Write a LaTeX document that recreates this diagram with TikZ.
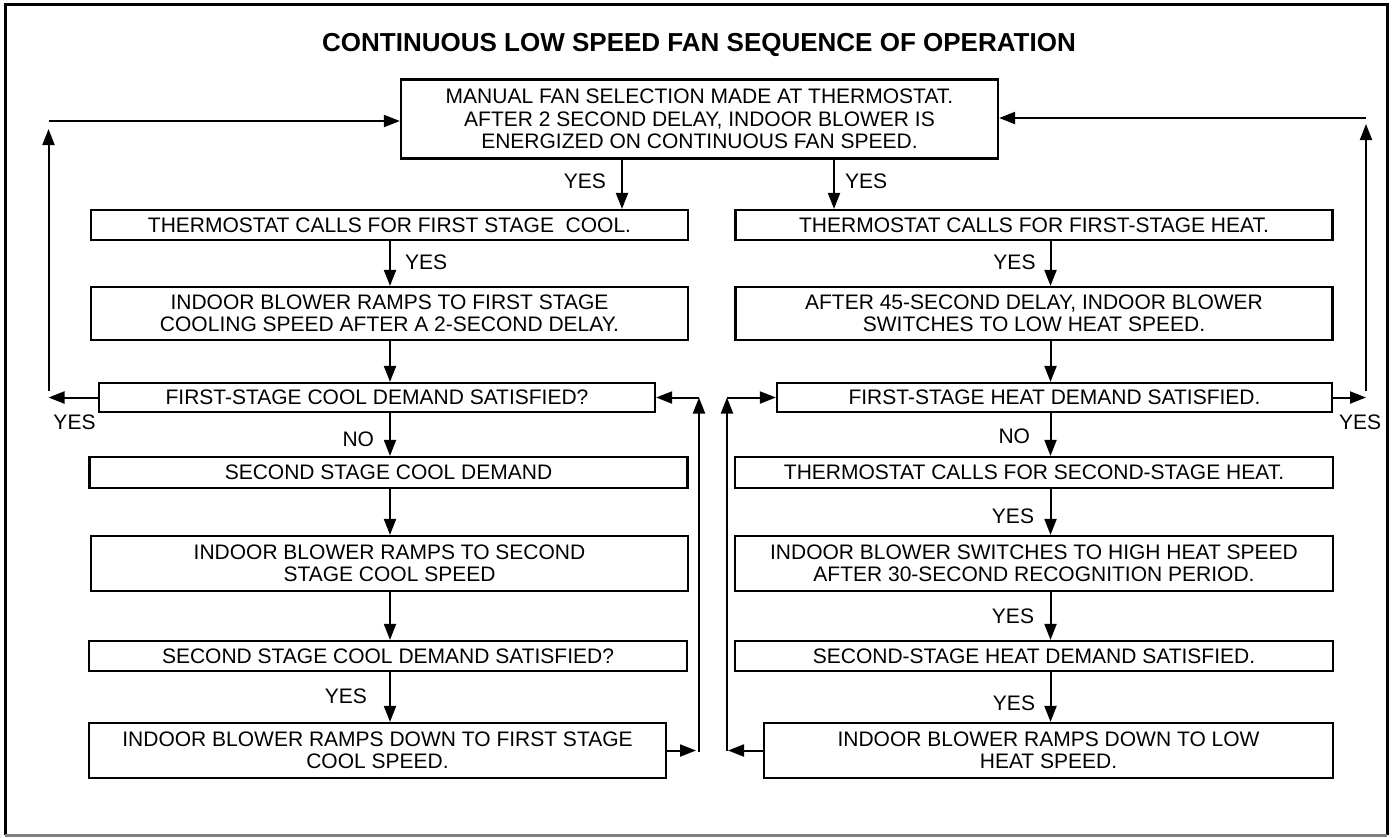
\documentclass[tikz,border=0pt]{standalone}
\usepackage{fontspec}
\setmainfont{Liberation Sans}
\usepackage{tikz}
\usetikzlibrary{arrows.meta, positioning, calc}

\begin{document}
\begin{tikzpicture}[
  x=0.5pt, y=-0.5pt,
  every node/.style={font=\fontsize{10.5}{11.25}\selectfont},
  block/.style={draw, line width=1.1pt, align=center, inner sep=2pt},
  arrow/.style={-{Triangle[length=8pt, width=6pt]}, line width=1pt},
  answer/.style={inner sep=1pt},
  heading/.style={font=\bfseries\fontsize{13}{15}\selectfont}
]
\useasboundingbox (0,0) rectangle (1398,837);

% Frame
\draw[line width=1.5pt] (5,835) -- (5,4) -- (1387,4) -- (1387,835);
\draw[line width=1.5pt, gray] (5,835) -- (1387,835);

% Title
\node[heading] (title) at (699,45) {CONTINUOUS LOW SPEED FAN SEQUENCE OF OPERATION};

% Row 1 — Fan selection
\node[block, minimum width=298.5pt, minimum height=39.5pt] (fan) at (699.5,119)
  {MANUAL FAN SELECTION MADE AT THERMOSTAT.\\AFTER 2 SECOND DELAY, INDOOR BLOWER IS\\ENERGIZED ON CONTINUOUS FAN SPEED.};

% Cooling column
\node[block, minimum width=298.5pt, minimum height=15pt] (cool1) at (389.5,225) {THERMOSTAT CALLS FOR FIRST STAGE\ \ COOL.};
\node[block, minimum width=298.5pt, minimum height=26.5pt] (cool2) at (389.5,313.5)
  {INDOOR BLOWER RAMPS TO FIRST STAGE\\COOLING SPEED AFTER A 2-SECOND DELAY.};
\node[block, minimum width=278pt, minimum height=14.5pt] (cool3) at (377,397.5) {FIRST-STAGE COOL DEMAND SATISFIED?};
\node[block, minimum width=299pt, minimum height=15.5pt] (cool4) at (388.5,472.5) {SECOND STAGE COOL DEMAND};
\node[block, minimum width=298.5pt, minimum height=27.5pt] (cool5) at (389.5,563.5)
  {INDOOR BLOWER RAMPS TO SECOND\\STAGE COOL SPEED};
\node[block, minimum width=299pt, minimum height=15pt] (cool6) at (388,656) {SECOND STAGE COOL DEMAND SATISFIED?};
\node[block, minimum width=288.5pt, minimum height=27.5pt] (cool7) at (377.5,750.5)
  {INDOOR BLOWER RAMPS DOWN TO FIRST STAGE\\COOL SPEED.};

% Heating column
\node[block, minimum width=298.5pt, minimum height=15pt] (heat1) at (1034,225) {THERMOSTAT CALLS FOR FIRST-STAGE HEAT.};
\node[block, minimum width=298.5pt, minimum height=26.5pt] (heat2) at (1034,313.5)
  {AFTER 45-SECOND DELAY, INDOOR BLOWER\\SWITCHES TO LOW HEAT SPEED.};
\node[block, minimum width=277.5pt, minimum height=14.5pt] (heat3) at (1054.5,397.5) {FIRST-STAGE HEAT DEMAND SATISFIED.};
\node[block, minimum width=299pt, minimum height=15.5pt] (heat4) at (1034,472.5) {THERMOSTAT CALLS FOR SECOND-STAGE HEAT.};
\node[block, minimum width=299pt, minimum height=27.5pt] (heat5) at (1034,563.5)
  {INDOOR BLOWER SWITCHES TO HIGH HEAT SPEED\\AFTER 30-SECOND RECOGNITION PERIOD.};
\node[block, minimum width=299pt, minimum height=15pt] (heat6) at (1034,656) {SECOND-STAGE HEAT DEMAND SATISFIED.};
\node[block, minimum width=284.5pt, minimum height=27.5pt] (heat7) at (1048.5,750.5)
  {INDOOR BLOWER RAMPS DOWN TO LOW\\HEAT SPEED.};

% Connector columns and loop corners
\coordinate (fanL) at (622,0);
\coordinate (fanR) at (834,0);
\coordinate (coolx) at (390,0);
\coordinate (heatx) at (1050.5,0);
\coordinate (lb) at (48.5,391);
\coordinate (ltip) at (48.5,129);
\coordinate (lt) at (48.5,121);
\coordinate (rb) at (1366,391);
\coordinate (rtip) at (1366,124);
\coordinate (rt) at (1366,118);
\coordinate (ml) at (699,752);
\coordinate (mr) at (727,750.5);

% Connections
\draw[arrow] (fan.south -| fanL) -- node[pos=0.44, left=6.5pt, answer]{YES} (cool1.north -| fanL);
\draw[arrow] (fan.south -| fanR) -- node[pos=0.44, right=4pt, answer]{YES} (heat1.north -| fanR);

\draw[arrow] (cool1.south -| coolx) -- node[pos=0.47, right=6pt, answer]{YES} (cool2.north -| coolx);
\draw[arrow] (cool2.south -| coolx) -- (cool3.north -| coolx);
\draw[arrow] (cool3.south -| coolx) -- node[pos=0.62, left=6.5pt, answer]{NO} (cool4.north -| coolx);
\draw[arrow] (cool4.south -| coolx) -- (cool5.north -| coolx);
\draw[arrow] (cool5.south -| coolx) -- (cool6.north -| coolx);
\draw[arrow] (cool6.south -| coolx) -- node[pos=0.48, left=10pt, answer]{YES} (cool7.north -| coolx);

\draw[arrow] (heat1.south -| heatx) -- node[pos=0.47, left=6pt, answer]{YES} (heat2.north -| heatx);
\draw[arrow] (heat2.south -| heatx) -- (heat3.north -| heatx);
\draw[arrow] (heat3.south -| heatx) -- node[pos=0.55, left=8.75pt, answer]{NO} (heat4.north -| heatx);
\draw[arrow] (heat4.south -| heatx) -- node[pos=0.6, left=6.75pt, answer]{YES} (heat5.north -| heatx);
\draw[arrow] (heat5.south -| heatx) -- node[pos=0.51, left=6.75pt, answer]{YES} (heat6.north -| heatx);
\draw[arrow] (heat6.south -| heatx) -- node[pos=0.62, left=6.25pt, answer]{YES} (heat7.north -| heatx);

% Return loops to the fan selection
\draw[arrow] (cool3.west) -- node[pos=1, anchor=north west, xshift=1pt, yshift=-7pt, answer]{YES} (cool3.west -| lt);
\draw[arrow] (lb) -- (ltip);
\draw[arrow] (lt) -- (fan.west |- lt);

\draw[arrow] (heat3.east) -- node[pos=1, anchor=north, xshift=-3pt, yshift=-7pt, answer]{YES} (heat3.east -| rt);
\draw[arrow] (rb) -- (rtip);
\draw[arrow] (rt) -- (fan.east |- rt);

% Return loops to first stage
\draw[arrow] (cool7.east) -- ([xshift=-1.5pt]cool7.east -| ml);
\draw[arrow] (ml) -- (ml |- cool3.east);
\draw[arrow] (ml |- cool3.east) -- (cool3.east);

\draw[arrow] (heat7.west) -- ([xshift=0.5pt]heat7.west -| mr);
\draw[arrow] (mr) -- (mr |- heat3.west);
\draw[arrow] (mr |- heat3.west) -- (heat3.west);

\end{tikzpicture}
\end{document}
